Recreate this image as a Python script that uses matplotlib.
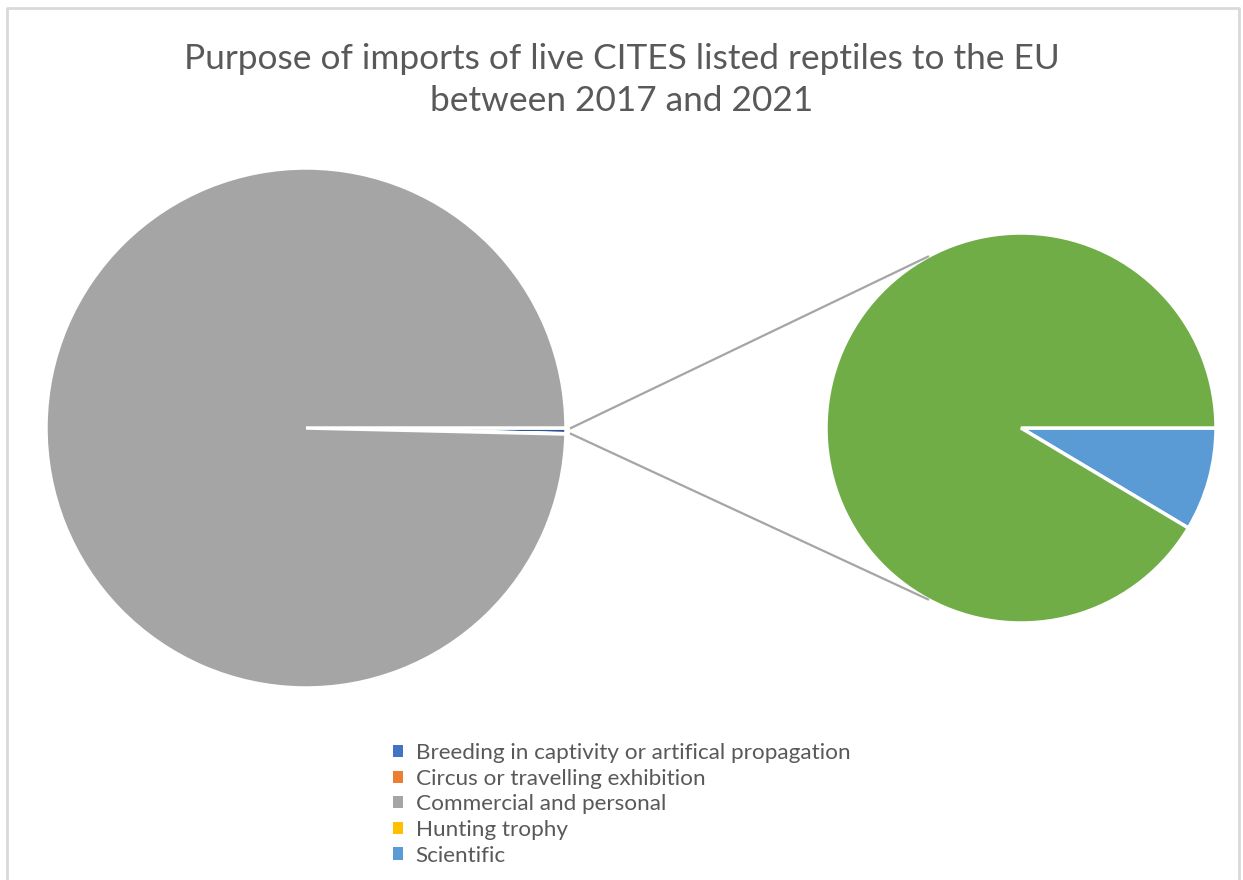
"""Pie-of-pie: purpose of imports of live CITES listed reptiles to the EU."""

import numpy as np
import matplotlib

matplotlib.use("Agg")
import matplotlib.pyplot as plt
from matplotlib.patches import Patch

plt.rcParams["font.family"] = ["Lato", "DejaVu Sans"]

# share of imported specimens (%)
categories = [
    "Breeding in captivity or artifical propagation",
    "Circus or travelling exhibition",
    "Commercial and personal",
    "Hunting trophy",
    "Scientific",
    "Zoo",
]
values = [0.02, 0.0, 99.63, 0.0, 0.03, 0.32]
colors = ["#4472C4", "#ED7D31", "#A5A5A5", "#FFC000", "#5B9BD5", "#70AD47"]
other_color = "#2F5597"

# the last two categories are split out into the secondary pie
n_second = 2
legend_count = 5  # the bottom of the legend is cut off in the original

W, H = 1243, 880
fig = plt.figure(figsize=(W / 100, H / 100), dpi=100)
ax = fig.add_axes([0, 0, 1, 1])

main_center, main_r = (306, H - 428), 260
sec_center, sec_r = (1021, H - 428), 195

# main pie: "Other" first, then the remaining categories clockwise
other_val = sum(values[-n_second:])
main_vals = [other_val]
main_cols = [other_color]
for v, c in zip(values[:-n_second], colors[:-n_second]):
    if v > 0:
        main_vals.append(v)
        main_cols.append(c)

ax.pie(main_vals, colors=main_cols, center=main_center, radius=main_r,
       startangle=0, counterclock=False,
       wedgeprops=dict(edgecolor="white", linewidth=2.5))

ax.pie(values[-n_second:], colors=colors[-n_second:],
       center=sec_center, radius=sec_r,
       startangle=0, counterclock=False,
       wedgeprops=dict(edgecolor="white", linewidth=2.5))

# connector lines from the "Other" wedge to the top/bottom of the second pie
other_angle = np.deg2rad(360 * other_val / sum(values))
for a, sign in [(0.0, 1), (-other_angle, -1)]:
    sx = main_center[0] + (main_r + 5) * np.cos(a)
    sy = main_center[1] + (main_r + 5) * np.sin(a)
    t = np.deg2rad(180 - 61.5 * sign)
    ex = sec_center[0] + sec_r * np.cos(t)
    ey = sec_center[1] + sec_r * np.sin(t)
    ax.plot([sx, ex], [sy, ey], color="#A5A5A5", linewidth=1.6)

# chart border (bottom edge is cut off)
ax.plot([7, 7, 1239, 1239], [0, H - 8, H - 8, 0], color="#D9D9D9", linewidth=2)

ax.set_xlim(0, W)
ax.set_ylim(0, H)
ax.set_aspect("equal")
ax.axis("off")

fig.text(0.5, 1 - 80 / H,
         "Purpose of imports of live CITES listed reptiles to the EU\nbetween 2017 and 2021",
         ha="center", va="center", fontsize=25.4, color="#595959",
         linespacing=1.35)

handles = [Patch(facecolor=c) for c in colors[:legend_count]]
fig.legend(handles, categories[:legend_count], loc="upper left",
           bbox_to_anchor=(384 / W, 1 - 734 / H), frameon=False,
           handlelength=0.45, handleheight=0.45, handletextpad=0.55,
           labelspacing=0.25, fontsize=16.2, labelcolor="#595959",
           borderaxespad=0)

fig.savefig("out.png", dpi=100)
